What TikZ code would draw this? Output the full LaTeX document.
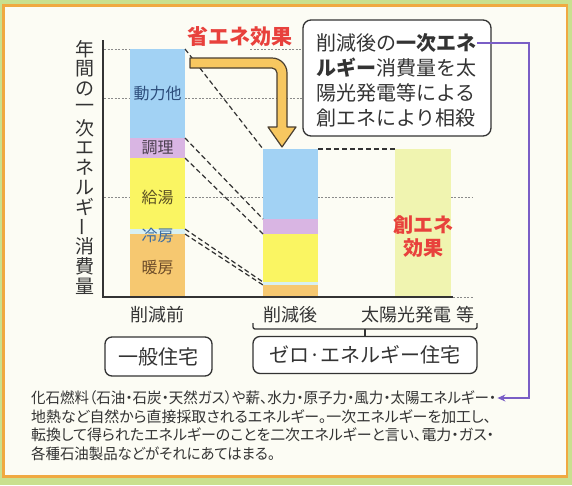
\documentclass[tikz,border=0pt]{standalone}
\usepackage{fontspec}
\usepackage{graphicx}
\newfontfamily\jp{Noto Sans CJK JP}
\newfontfamily\jpp[RawFeature=+palt]{Noto Sans CJK JP}
\usetikzlibrary{arrows.meta}
\definecolor{bgG}{HTML}{C9E08F}
\definecolor{panel}{HTML}{FCFCF4}
\definecolor{bord}{HTML}{F0A941}
\definecolor{cBlue}{HTML}{A2D2F4}
\definecolor{cPur}{HTML}{D9B5E3}
\definecolor{cYel}{HTML}{FAF562}
\definecolor{cCyan}{HTML}{D8F0F2}
\definecolor{cOra}{HTML}{F6C870}
\definecolor{cSol}{HTML}{F0F4B0}
\definecolor{cRed}{HTML}{E8413C}
\definecolor{cArr}{HTML}{F7C760}
\definecolor{cArrL}{HTML}{4A3F30}
\definecolor{cPurp}{HTML}{7A5EC6}
\definecolor{ink}{HTML}{333333}
\definecolor{gridc}{HTML}{8A8A8A}
\definecolor{tBlue}{HTML}{2D4E7C}
\definecolor{tPur}{HTML}{4A3F4E}
\definecolor{tYel}{HTML}{5B5124}
\definecolor{tCy}{HTML}{3C6CA0}
\definecolor{tOra}{HTML}{6B4A28}
\tikzset{
  seg/.style={draw=none, inner sep=0pt, outer sep=0pt, minimum width=55pt, anchor=north west},
  gridl/.style={gridc, line width=0.6pt, dash pattern=on 2pt off 1.5pt},
  dashline/.style={ink, line width=1.2pt, dash pattern=on 5pt off 3pt},
  barlbl/.style={font=\jp\fontsize{16}{16}\selectfont},
  axlbl/.style={font=\jp\fontsize{18}{18}\selectfont, text=ink},
  ylbl/.style={font=\jp\fontsize{19}{19}\selectfont, text=ink, inner sep=0pt},
  cbline/.style={font=\jp\fontsize{20}{20}\selectfont, text=ink, anchor=west, inner sep=1pt},
  house/.style={draw=ink, line width=1.3pt, rounded corners=7pt, fill=white, font=\jp\fontsize{20}{20}\selectfont, text=ink},
  btext/.style={font=\jpp\fontsize{15}{15}\selectfont, text=ink, anchor=west, inner sep=1pt},
}
\begin{document}
\begin{tikzpicture}[x=1pt,y=-1pt]
\useasboundingbox (0,0) rectangle (572,485);
\fill[bgG] (0,0) rectangle (572,485);
\draw[bord, line width=2.5pt, fill=panel] (3.5,5.5) rectangle (567,476.5);

% gridlines
\draw[gridl] (104,49) -- (130,49) (250,49) -- (302,49);
\draw[gridl] (104,98) -- (302,98);
\draw[gridl] (104,197) -- (473,197);
\draw[gridl] (453,297) -- (474,297);

% bar 1 (before)
\node[seg, fill=cBlue, minimum height=89pt] (b1a) at (130,49) {};
\node[seg, fill=cPur,  minimum height=20pt] (b1b) at (130,138) {};
\node[seg, fill=cYel,  minimum height=71pt] (b1c) at (130,158) {};
\node[seg, fill=cCyan, minimum height=5pt]  (b1d) at (130,229) {};
\node[seg, fill=cOra,  minimum height=63pt] (b1e) at (130,234) {};
\node[barlbl, text=tBlue] (l1a) at (157.5,93) {動力他};
\node[barlbl, text=tPur]  (l1b) at (157.5,148) {調理};
\node[barlbl, text=tYel]  (l1c) at (157.5,197) {給湯};
\node[barlbl, text=tCy]   (l1d) at (157.5,236) {冷房};
\node[barlbl, text=tOra]  (l1e) at (157.5,268) {暖房};

% bar 2 (after)
\node[seg, fill=cBlue, minimum height=70pt] (b2a) at (263,149) {};
\node[seg, fill=cPur,  minimum height=15pt] (b2b) at (263,219) {};
\node[seg, fill=cYel,  minimum height=48pt] (b2c) at (263,234) {};
\node[seg, fill=cCyan, minimum height=3pt]  (b2d) at (263,282) {};
\node[seg, fill=cOra,  minimum height=12pt] (b2e) at (263,285) {};

% bar 3 (solar)
\node[seg, fill=cSol, minimum width=56pt, minimum height=148pt] (b3) at (395,149) {};
\node[font=\jp\bfseries\fontsize{20}{23}\selectfont, text=cRed, align=center] (sol) at (423,236.5) {創エネ\\効果};

% dashed connectors
\draw[dashline, line width=1.8pt] (b2a.north east) -- (b3.north west);
\draw[dashline] (b1a.north east) -- (b2a.north west);
\draw[dashline] (b1a.south east) -- (b2a.south west);
\draw[dashline] (b1b.south east) -- (b2b.south west);
\draw[dashline] (b1d.north east) -- (b2d.north west);
\draw[dashline] (b1d.south east) -- (b2d.south west);

% axes
\coordinate (ytop) at (103,40);
\coordinate (org) at (103,297);
\coordinate (xend) at (453,297);
\draw[ink, line width=2pt] (ytop) -- (org) -- (xend);

% y label
\foreach \c [count=\i] in {年,間,の,一,次,エ,ネ,ル,ギ,X,消,費,量}{
  \ifnum\i=10
    \node[ylbl, rotate=90] (yl\i) at (85,{49+(\i-1)*19.75}) {ー};
  \else
    \node[ylbl] (yl\i) at (85,{49+(\i-1)*19.75}) {\c};
  \fi
}

% big arrow
\draw[fill=cArr, draw=cArrL, line width=1.2pt, line join=round]
  (190,58) -- (272,58) .. controls (280.28,58) and (287,64.72) .. (287,73)
  -- (287,127) -- (296,127) -- (282,147) -- (268,127) -- (277,127)
  -- (277,73) .. controls (277,70.24) and (274.76,68) .. (272,68)
  -- (190,68) -- cycle;

% red title
\node[font=\jp\bfseries\fontsize{21}{21}\selectfont, text=cRed] (sav) at (240,37) {省エネ効果};

% callout
\node[draw=ink, line width=1.3pt, rounded corners=8pt, fill=white, minimum width=188pt, minimum height=116pt] (cb) at (397,78) {};
\node[cbline] (cl1) at (315,43) {削減後の{\bfseries 一次エネ}};
\node[cbline] (cl2) at (315,68) {{\bfseries ルギー}消費量を太};
\node[cbline] (cl3) at (315,93) {陽光発電等による};
\node[cbline] (cl4) at (315,118) {創エネにより相殺};

% axis labels
\node[axlbl] (xa) at (157,315) {削減前};
\node[axlbl] (xb) at (290,315) {削減後};
\node[axlbl] (xc) at (418,315) {太陽光発電 等};

% bracket
\coordinate (brL) at (253,323);
\coordinate (brR) at (477,323);
\draw[ink, line width=1.3pt, rounded corners=2pt] (brL) -- ++(0,6) -- ++(224,0) -- (brR);

% house boxes
\node[house, minimum width=107pt, minimum height=39pt] (h1) at (158.5,356.5) {一般住宅};
\node[house, minimum width=224pt, minimum height=37pt] (h2) at (365,355) {ゼロ·エネルギー住宅};
\draw[ink, line width=1.3pt] (365,329) -- (h2.north);

% bottom text
\node[btext] (bt1) at (30,398) {\resizebox{465pt}{\height}{化石燃料（石油・石炭・天然ガス）や薪、水力・原子力・風力・太陽エネルギー・}};
\node[btext] (bt2) at (30,416.5) {\resizebox{460pt}{\height}{地熱など自然から直接採取されるエネルギー。一次エネルギーを加工し、}};
\node[btext] (bt3) at (30,435) {\resizebox{463pt}{\height}{転換して得られたエネルギーのことを二次エネルギーと言い、電力・ガス・}};
\node[btext] (bt4) at (30,453.5) {\resizebox{244pt}{\height}{各種石油製品などがそれにあてはまる。}};

% purple connector
\coordinate (pturn) at (529,43);
\draw[cPurp, line width=1.8pt, -{Stealth[length=8pt, width=7pt]}] (cl1.east) -- (cl1.east -| pturn) |- (bt1.east);
\end{tikzpicture}
\end{document}
